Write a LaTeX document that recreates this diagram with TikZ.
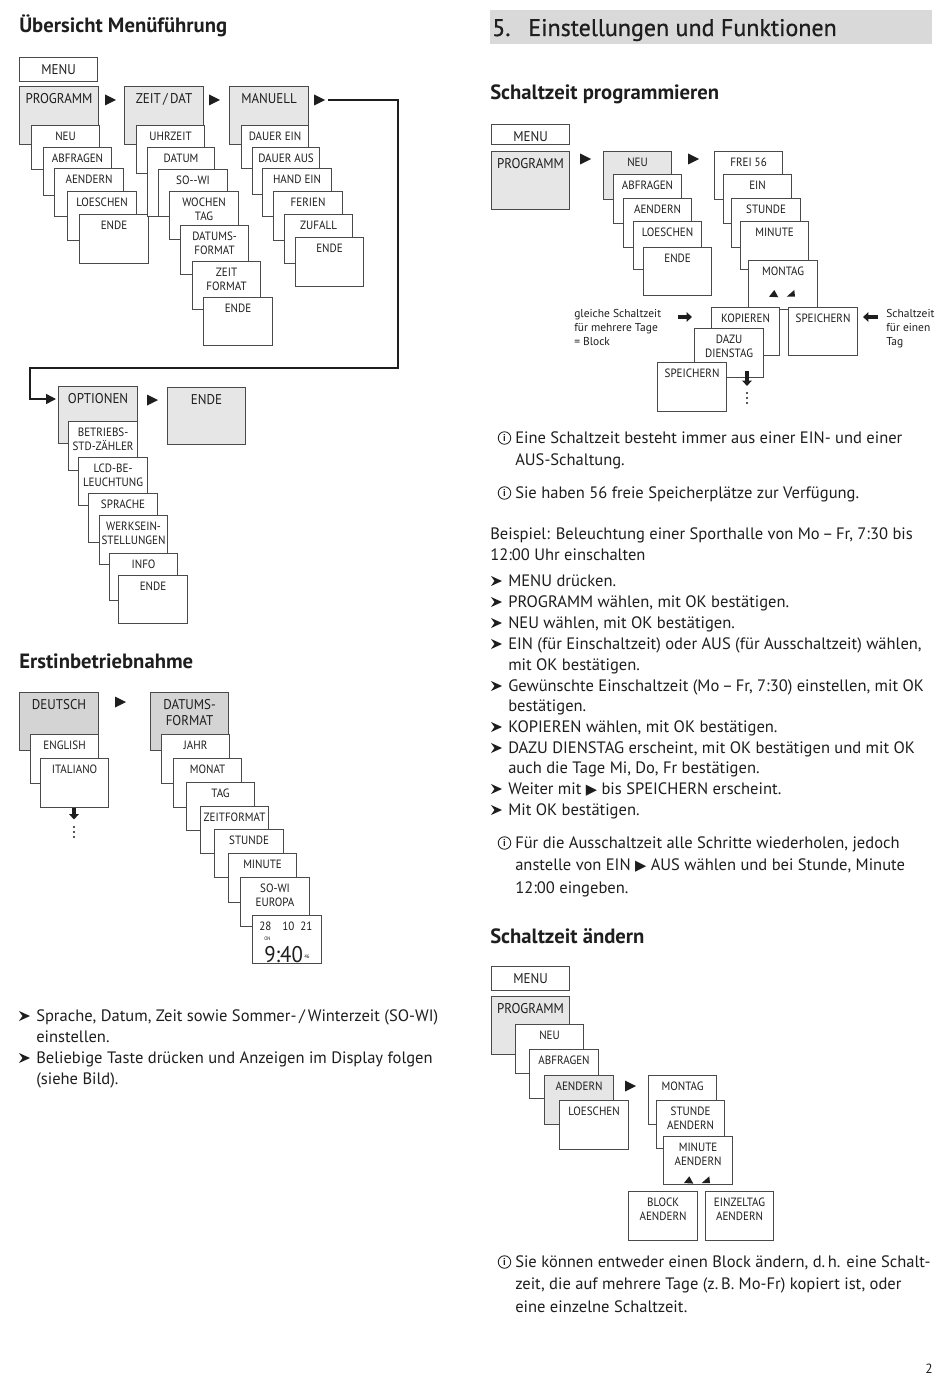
\documentclass[tikz,border=0pt]{standalone}
\usepackage{fontspec}
\setmainfont{PT Sans}
\newfontfamily\symf{DejaVu Sans}
\newfontfamily\lblf[FakeStretch=0.92]{PT Sans}
\newfontfamily\bodyf{PT Sans}
\newfontfamily\hbf[FakeBold=0.7]{PT Sans}
\usetikzlibrary{arrows.meta}
\definecolor{mfill}{HTML}{E6E6E6}
\definecolor{dfill}{HTML}{D4D4D4}
\definecolor{barc}{HTML}{D9D9D9}
\definecolor{edge}{HTML}{4A4A4A}
\definecolor{txt}{HTML}{1E1E1E}
\tikzset{
  mbox/.style={draw=edge, line width=0.85pt, inner sep=0pt, anchor=north west},
  slbl/.style={font=\lblf\fontsize{9}{10.1}\selectfont, text=txt, align=center, inner sep=0pt, anchor=north},
  plbl/.style={font=\lblf\fontsize{10.6}{12}\selectfont, text=txt, align=center, inner sep=0pt, anchor=north},
  body/.style={font=\bodyf\fontsize{12.4}{14}\selectfont, text=txt, anchor=base west, inner sep=0pt},
  note/.style={font=\fontsize{8.6}{10}\selectfont, text=txt, anchor=base west, inner sep=0pt},
  hA/.style={font=\bfseries\fontsize{15.5}{18}\selectfont, text=txt, anchor=base west, inner sep=0pt},
  hB/.style={font=\hbf\fontsize{18}{22}\selectfont, text=txt, anchor=base west, inner sep=0pt},
  conn/.style={draw=txt, line width=1.1pt},
  blk/.style={draw=txt, line width=3pt, -{Triangle[length=4pt,width=7pt]}},
}
\newcommand\mbx[8]{%
  \node[mbox, fill=#6, minimum width=#4*0.75pt, minimum height=#5*0.75pt] (#1) at (#2,#3) {};
  \node[#7] (#1-t) at ([yshift=-5.25pt]#1.north) {#8};}
\newcommand\mytri[3]{%
  \fill[txt] (#2,#3-5.5) -- (#2+11,#3) -- (#2,#3+5.5) -- cycle;
  \coordinate (#1) at (#2+11,#3);}
\newcommand\pairtri[2]{%
  \fill[txt] (#1,#2) -- (#1+9.3,#2+0.6) -- (#1+5.3,#2-6.7) -- cycle;
  \fill[txt] (#1+17.7,#2) -- (#1+26,#2) -- (#1+25.3,#2-6.7) -- cycle;}
\newcommand\bulx[2]{\fill[txt] (#1,#2-5) -- (#1+11,#2) -- (#1,#2+5) -- (#1+3.5,#2) -- cycle;}
\newcommand\infoi[3]{\node[draw=txt, circle, line width=0.65pt, minimum size=12.5*0.75pt, inner sep=0pt, font=\bfseries\fontsize{7.5}{7.5}\selectfont, text=txt] (#1) at (#2,#3) {i};}
\newcommand\tright{{\symf\fontsize{11}{11}\selectfont ▶}}
\begin{document}
\begin{tikzpicture}[x=0.75pt,y=-0.75pt]
\useasboundingbox (0,0) rectangle (950,1380);
\fill[white] (0,0) rectangle (950,1380);

% ---------- headings
\node[hA] (hueb) at (19,33) {Übersicht Menüführung};
\node[fill=barc, inner sep=0pt, anchor=north west, minimum width=442*0.75pt, minimum height=34*0.75pt] (bar) at (490,10) {};
\node[hB] (h5n) at (492,36) {5.};
\node[hB] (h5t) at (528,36) {Einstellungen und Funktionen};
\node[hA] (hsp) at (490,100) {Schaltzeit programmieren};
\node[hA] (herst) at (19,668) {Erstinbetriebnahme};
\node[hA] (hsa) at (490,943) {Schaltzeit ändern};

% ---------- Uebersicht Menuefuehrung
\mbx{m1}{19}{57}{78}{24}{white}{plbl}{MENU}
\mbx{p1}{19}{86}{79}{58}{mfill}{plbl}{PROGRAMM}
\mytri{a1}{105}{100}
\mbx{z1}{124}{86}{79}{58}{mfill}{plbl}{ZEIT\,/\,DAT}
\mytri{a2}{209}{100}
\mbx{n1}{229}{86}{79}{58}{mfill}{plbl}{MANUELL}
\mytri{a3}{314}{100}

\mbx{p1a}{31}{125}{68}{44}{white}{slbl}{NEU}
\mbx{p1b}{43}{147}{68}{48}{white}{slbl}{ABFRAGEN}
\mbx{p1c}{54}{168}{69}{48}{white}{slbl}{AENDERN}
\mbx{p1d}{67}{191}{69}{49}{white}{slbl}{LOESCHEN}
\mbx{p1e}{79}{214}{69}{49}{white}{slbl}{ENDE}

\mbx{z1a}{136}{125}{68}{48}{white}{slbl}{UHRZEIT}
\mbx{z1b}{147}{147}{67}{69}{white}{slbl}{DATUM}
\mbx{z1c}{158}{169}{69}{47}{white}{slbl}{SO-{}-WI}
\mbx{z1d}{169}{191}{69}{48}{white}{slbl}{WOCHEN\\TAG}
\mbx{z1e}{180}{225}{68}{49}{white}{slbl}{DATUMS-\\FORMAT}
\mbx{z1f}{192}{261}{68}{48}{white}{slbl}{ZEIT\\FORMAT}
\mbx{z1g}{203}{297}{69}{48}{white}{slbl}{ENDE}

\mbx{n1a}{241}{125}{67}{43}{white}{slbl}{DAUER EIN}
\mbx{n1b}{252}{147}{67}{47}{white}{slbl}{DAUER AUS}
\mbx{n1c}{262}{168}{69}{48}{white}{slbl}{HAND EIN}
\mbx{n1d}{273}{191}{69}{49}{white}{slbl}{FERIEN}
\mbx{n1e}{284}{214}{68}{49}{white}{slbl}{ZUFALL}
\mbx{n1f}{295}{237}{68}{49}{white}{slbl}{ENDE}

\mbx{o1}{58}{386}{79}{57}{mfill}{plbl}{OPTIONEN}
\mytri{a4}{147}{400}
\mbx{o2}{167}{387}{78}{57}{mfill}{plbl}{ENDE}
\mbx{o1a}{68}{421}{69}{49}{white}{slbl}{BETRIEBS-\\STD-ZÄHLER}
\mbx{o1b}{78}{457}{69}{48}{white}{slbl}{LCD-BE-\\LEUCHTUNG}
\mbx{o1c}{88}{493}{69}{49}{white}{slbl}{SPRACHE}
\mbx{o1d}{99}{515}{68}{49}{white}{slbl}{WERKSEIN-\\STELLUNGEN}
\mbx{o1e}{109}{553}{68}{47}{white}{slbl}{INFO}
\mbx{o1f}{118}{575}{69}{48}{white}{slbl}{ENDE}

\coordinate (k1) at (398,368);
\coordinate (k2) at (30,368);
\coordinate (k3) at (56,399);
\draw[conn, -{Triangle[length=7.5pt,width=7.5pt]}] ([xshift=2.25pt]a3) -| (k1) -- (k2) |- (k3);

% ---------- Erstinbetriebnahme
\mbx{e1}{19}{692}{79}{58}{dfill}{plbl}{DEUTSCH}
\mytri{a5}{115}{702}
\mbx{e1a}{30}{734}{68}{49}{white}{slbl}{ENGLISH}
\mbx{e1b}{40}{758}{68}{49}{white}{slbl}{ITALIANO}
\coordinate (d1) at (74,807.5);
\draw[blk] (d1) -- ++(0,12);
\fill[txt] (74,827) circle (1.1) (74,832) circle (1.1) (74,837) circle (1.1);

\mbx{e2}{150}{692}{78}{58}{dfill}{plbl}{DATUMS-\\FORMAT}
\mbx{e2a}{161}{734}{68}{49}{white}{slbl}{JAHR}
\mbx{e2b}{173}{758}{68}{49}{white}{slbl}{MONAT}
\mbx{e2c}{186}{782}{68}{48}{white}{slbl}{TAG}
\mbx{e2d}{200}{806}{68}{47}{white}{slbl}{ZEITFORMAT}
\mbx{e2e}{214}{829}{69}{48}{white}{slbl}{STUNDE}
\mbx{e2f}{228}{853}{68}{49}{white}{slbl}{MINUTE}
\mbx{e2g}{240}{877}{69}{49}{white}{slbl}{SO-WI\\EUROPA}
\node[mbox, fill=white, minimum width=69*0.75pt, minimum height=48*0.75pt] (disp) at (252,915) {};
\node[slbl, anchor=base west] (d28) at (259,930) {28};
\node[slbl, anchor=base west] (d10) at (282,930) {10};
\node[slbl, anchor=base west] (d21) at (300,930) {21};
\node[font=\lblf\fontsize{3.8}{4}\selectfont, text=txt, anchor=base west, inner sep=0pt] (don) at (264,940) {ON};
\node[font=\lblf\fontsize{17}{18}\selectfont, text=txt, anchor=base west, inner sep=0pt] (dt) at (264,962) {9:40};
\node[font=\lblf\fontsize{4}{4}\selectfont, text=txt, anchor=base west, inner sep=0pt] (ds) at (304,958) {46};

\bulx{19}{1016}
\node[body] (lb1) at (36,1021.5) {Sprache, Datum, Zeit sowie Sommer-\,/\,Winterzeit (SO-WI)};
\node[body] (lb1b) at (36,1042.5) {einstellen.};
\bulx{19}{1058}
\node[body] (lb2) at (36,1063.5) {Beliebige Taste drücken und Anzeigen im Display folgen};
\node[body] (lb2b) at (36,1084.5) {(siehe Bild).};

% ---------- Schaltzeit programmieren
\mbx{m2}{491}{124}{78}{20}{white}{plbl}{MENU}
\mbx{p2}{491}{151}{78}{58}{mfill}{plbl}{PROGRAMM}
\mytri{a6}{580}{159}
\mbx{p2a}{603}{151}{68}{48}{mfill}{slbl}{NEU}
\mbx{p2b}{613}{174}{68}{49}{white}{slbl}{ABFRAGEN}
\mbx{p2c}{623}{198}{68}{49}{white}{slbl}{AENDERN}
\mbx{p2d}{633}{221}{68}{48}{white}{slbl}{LOESCHEN}
\mbx{p2e}{643}{247}{68}{48}{white}{slbl}{ENDE}
\mytri{a7}{688}{159}
\mbx{f1}{714}{151}{68}{48}{white}{slbl}{FREI 56}
\mbx{f2}{723}{174}{68}{49}{white}{slbl}{EIN}
\mbx{f3}{731}{198}{69}{49}{white}{slbl}{STUNDE}
\mbx{f4}{740}{221}{68}{48}{white}{slbl}{MINUTE}
\mbx{f5}{748}{260}{69}{49}{white}{slbl}{MONTAG}
\pairtri{769}{296.7}
\mbx{f6}{711}{307}{68}{48}{white}{slbl}{KOPIEREN}
\mbx{f7}{788}{307}{69}{48}{white}{slbl}{SPEICHERN}
\mbx{f8}{694}{328}{69}{49}{white}{slbl}{DAZU\\DIENSTAG}
\mbx{f9}{657}{362}{69}{49}{white}{slbl}{SPEICHERN}
\coordinate (d2) at (747,371);
\draw[blk] (d2) -- ++(0,15);
\fill[txt] (747,393) circle (1.1) (747,398) circle (1.1) (747,403) circle (1.1);
\coordinate (r1) at (678,317);
\draw[blk] (r1) -- ++(14,0);
\coordinate (r2) at (878,317);
\draw[blk] (r2) -- ++(-15,0);
\node[note] (g1) at (574,317) {gleiche Schaltzeit};
\node[note] (g2) at (574,331) {für mehrere Tage};
\node[note] (g3) at (574,345.5) {= Block};
\node[note] (s1) at (886,317) {Schaltzeit};
\node[note] (s2) at (886,331) {für einen};
\node[note] (s3) at (886,345.5) {Tag};

\infoi{i1}{504.5}{438}
\node[body] (t1) at (515,443.5) {Eine Schaltzeit besteht immer aus einer EIN- und einer};
\node[body] (t1b) at (515,465.5) {AUS-Schaltung.};
\infoi{i2}{504.5}{493}
\node[body] (t2) at (515,498.5) {Sie haben 56 freie Speicherplätze zur Verfügung.};
\node[body] (t3) at (490,539.5) {Beispiel: Beleuchtung einer Sporthalle von Mo\,–\,Fr, 7:30 bis};
\node[body] (t3b) at (490,560.5) {12:00 Uhr einschalten};
\bulx{491}{581}
\node[body] (b1) at (508,586.5) {MENU drücken.};
\bulx{491}{602}
\node[body] (b2) at (508,607.5) {PROGRAMM wählen, mit OK bestätigen.};
\bulx{491}{623}
\node[body] (b3) at (508,628.5) {NEU wählen, mit OK bestätigen.};
\bulx{491}{644}
\node[body] (b4) at (508,649.5) {EIN (für Einschaltzeit) oder AUS (für Ausschaltzeit) wählen,};
\node[body] (b4b) at (508,670.5) {mit OK bestätigen.};
\bulx{491}{686}
\node[body] (b5) at (508,691.5) {Gewünschte Einschaltzeit (Mo\,–\,Fr, 7:30) einstellen, mit OK};
\node[body] (b5b) at (508,711.5) {bestätigen.};
\bulx{491}{727}
\node[body] (b6) at (508,732.5) {KOPIEREN wählen, mit OK bestätigen.};
\bulx{491}{748}
\node[body] (b7) at (508,753.5) {DAZU DIENSTAG erscheint, mit OK bestätigen und mit OK};
\node[body] (b7b) at (508,773.5) {auch die Tage Mi, Do, Fr bestätigen.};
\bulx{491}{789}
\node[body] (b8) at (508,794.5) {Weiter mit \tright{} bis SPEICHERN erscheint.};
\bulx{491}{810}
\node[body] (b9) at (508,815.5) {Mit OK bestätigen.};
\infoi{i3}{504.5}{843}
\node[body] (t4) at (515,848.5) {Für die Ausschaltzeit alle Schritte wiederholen, jedoch};
\node[body] (t4b) at (515,870.5) {anstelle von EIN \tright{} AUS wählen und bei Stunde, Minute};
\node[body] (t4c) at (515,893.5) {12:00 eingeben.};

% ---------- Schaltzeit aendern
\mbx{m3}{491}{966}{78}{24}{white}{plbl}{MENU}
\mbx{p3}{491}{996}{78}{58}{mfill}{plbl}{PROGRAMM}
\mbx{p3a}{515}{1024}{68}{49}{white}{slbl}{NEU}
\mbx{p3b}{529}{1049}{69}{49}{white}{slbl}{ABFRAGEN}
\mbx{p3c}{544}{1075}{69}{49}{mfill}{slbl}{AENDERN}
\mbx{p3d}{559}{1100}{69}{49}{white}{slbl}{LOESCHEN}
\mytri{a8}{625}{1086}
\mbx{c1}{648}{1075}{68}{49}{white}{slbl}{MONTAG}
\mbx{c2}{656}{1100}{68}{48}{white}{slbl}{STUNDE\\AENDERN}
\mbx{c3}{663}{1136}{69}{48}{white}{slbl}{MINUTE\\AENDERN}
\pairtri{684}{1183}
\mbx{c4}{628}{1191}{69}{49}{white}{slbl}{BLOCK\\AENDERN}
\mbx{c5}{705}{1191}{68}{49}{white}{slbl}{EINZELTAG\\AENDERN}

\infoi{i4}{504.5}{1262}
\node[body] (t5) at (515,1267.5) {Sie können entweder einen Block ändern, d.\,h. eine Schalt-};
\node[body] (t5b) at (515,1289.5) {zeit, die auf mehrere Tage (z.\,B. Mo-Fr) kopiert ist, oder};
\node[body] (t5c) at (515,1312.5) {eine einzelne Schaltzeit.};
\node[body, anchor=base east, font=\bodyf\fontsize{10}{12}\selectfont] (pg) at (933,1373) {2};
\end{tikzpicture}
\end{document}
